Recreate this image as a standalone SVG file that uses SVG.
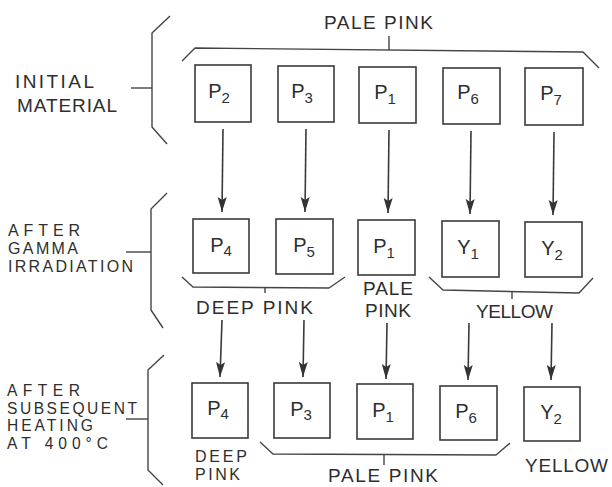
<svg xmlns="http://www.w3.org/2000/svg" width="612" height="487" viewBox="0 0 612 487">
<defs>
<marker id="ah" markerUnits="userSpaceOnUse" markerWidth="16" markerHeight="10" refX="15" refY="5" orient="auto" viewBox="0 0 16 10">
<path d="M0,0.5 L15,5 L0,9.5 L3,5 Z" fill="#333"/>
</marker>
</defs>
<style>
text{font-family:"Liberation Sans",Arial,sans-serif;font-size:19px;fill:#2e2e2e}
.stk{font-size:16px}
.stk4{font-size:15.6px}
.lbl{text-anchor:middle;font-size:20px}
.sub{font-size:15px}
.box{fill:none;stroke:#3a3a3a;stroke-width:1.6}
.br{fill:none;stroke:#444;stroke-width:1.4;stroke-linejoin:round}
.ar{stroke:#3a3a3a;stroke-width:1.6;fill:none}
</style>
<rect width="612" height="487" fill="#fff"/>

<g id="stage-labels">
<text x="15" y="88" textLength="79" lengthAdjust="spacing">INITIAL</text>
<text x="17" y="112" textLength="100" lengthAdjust="spacing">MATERIAL</text>
<text class="stk" x="8" y="236" textLength="72" lengthAdjust="spacing">AFTER</text>
<text class="stk" x="8" y="254" textLength="70" lengthAdjust="spacing">GAMMA</text>
<text class="stk" x="8" y="272" textLength="125" lengthAdjust="spacing">IRRADIATION</text>
<text class="stk4" x="7" y="396" textLength="73" lengthAdjust="spacing">AFTER</text>
<text class="stk4" x="7" y="413.5" textLength="130" lengthAdjust="spacing">SUBSEQUENT</text>
<text class="stk4" x="7" y="431" textLength="86" lengthAdjust="spacing">HEATING</text>
<text class="stk4" x="7" y="448.5" textLength="101" lengthAdjust="spacing">AT 400°C</text>
</g>

<g id="brackets">
<polyline class="br" points="170,16 152,33 152,127 167,144"/>
<line class="br" x1="131" y1="88" x2="152" y2="88"/>
<polyline class="br" points="167,193 151,209 151,310 163,328"/>
<line class="br" x1="126" y1="252" x2="151" y2="252"/>
<polyline class="br" points="164,355 148,370 148,470 163,485"/>
<line class="br" x1="126" y1="419" x2="148" y2="419"/>

<polyline class="br" points="182,61 195,48 583,52 599,68"/>
<line class="br" x1="389" y1="36" x2="389" y2="50"/>

<polyline class="br" points="182,277 193,287 329,288 345,277"/>
<line class="br" x1="265" y1="287" x2="265" y2="293"/>

<polyline class="br" points="429,277 443,290 579,293 593,278"/>
<line class="br" x1="512" y1="291" x2="512" y2="299"/>

<polyline class="br" points="260,442 273,454 496,455 510,443"/>
<line class="br" x1="384" y1="455" x2="384" y2="465"/>
</g>

<g id="color-labels">
<text x="324" y="29" textLength="109" lengthAdjust="spacing">PALE PINK</text>
<text x="196" y="314" textLength="117" lengthAdjust="spacing">DEEP PINK</text>
<text x="363" y="295" textLength="50" lengthAdjust="spacing">PALE</text>
<text x="365" y="317" textLength="46" lengthAdjust="spacing">PINK</text>
<text x="476" y="318" textLength="77" lengthAdjust="spacing">YELLOW</text>
<text class="stk" x="195" y="462" textLength="52" lengthAdjust="spacing">DEEP</text>
<text class="stk" x="195" y="480" textLength="45" lengthAdjust="spacing">PINK</text>
<text x="328" y="482" textLength="110" lengthAdjust="spacing">PALE PINK</text>
<text x="525" y="472" textLength="83" lengthAdjust="spacing">YELLOW</text>
</g>

<g id="connectors">
<line class="ar" x1="223" y1="129" x2="222" y2="212" marker-end="url(#ah)"/>
<line class="ar" x1="306" y1="129" x2="305" y2="212" marker-end="url(#ah)"/>
<line class="ar" x1="389" y1="130" x2="388" y2="213" marker-end="url(#ah)"/>
<line class="ar" x1="471" y1="131" x2="470" y2="214" marker-end="url(#ah)"/>
<line class="ar" x1="554" y1="132" x2="553" y2="215" marker-end="url(#ah)"/>
<line class="ar" x1="222" y1="320" x2="220" y2="377" marker-end="url(#ah)"/>
<line class="ar" x1="304" y1="320" x2="303" y2="377" marker-end="url(#ah)"/>
<line class="ar" x1="387" y1="323" x2="386" y2="379" marker-end="url(#ah)"/>
<line class="ar" x1="469" y1="323" x2="468" y2="380" marker-end="url(#ah)"/>
<line class="ar" x1="552" y1="323" x2="551" y2="380" marker-end="url(#ah)"/>
</g>

<g id="top-P2"><rect class="box" x="195" y="65" width="56" height="57"/><text class="lbl" x="219" y="98">P<tspan class="sub" dy="5">2</tspan></text></g>
<g id="top-P3"><rect class="box" x="278" y="66" width="56" height="56"/><text class="lbl" x="302" y="98">P<tspan class="sub" dy="5">3</tspan></text></g>
<g id="top-P1"><rect class="box" x="359" y="67" width="57" height="56"/><text class="lbl" x="385" y="99">P<tspan class="sub" dy="5">1</tspan></text></g>
<g id="top-P6"><rect class="box" x="443" y="68" width="57" height="56"/><text class="lbl" x="468" y="99">P<tspan class="sub" dy="5">6</tspan></text></g>
<g id="top-P7"><rect class="box" x="525" y="68" width="58" height="57"/><text class="lbl" x="551" y="100">P<tspan class="sub" dy="5">7</tspan></text></g>

<g id="mid-P4"><rect class="box" x="193" y="219" width="56" height="54"/><text class="lbl" x="221" y="252">P<tspan class="sub" dy="4">4</tspan></text></g>
<g id="mid-P5"><rect class="box" x="276" y="219" width="57" height="55"/><text class="lbl" x="304" y="252">P<tspan class="sub" dy="5">5</tspan></text></g>
<g id="mid-P1"><rect class="box" x="358" y="220" width="57" height="55"/><text class="lbl" x="384" y="253">P<tspan class="sub" dy="5">1</tspan></text></g>
<g id="mid-Y1"><rect class="box" x="442" y="221" width="57" height="56"/><text class="lbl" x="468" y="254">Y<tspan class="sub" dy="5">1</tspan></text></g>
<g id="mid-Y2"><rect class="box" x="525" y="222" width="57" height="55"/><text class="lbl" x="552" y="255">Y<tspan class="sub" dy="5">2</tspan></text></g>

<g id="bot-P4"><rect class="box" x="192" y="383" width="56" height="55"/><text class="lbl" x="218" y="415">P<tspan class="sub" dy="4">4</tspan></text></g>
<g id="bot-P3"><rect class="box" x="274" y="383" width="56" height="55"/><text class="lbl" x="301" y="416">P<tspan class="sub" dy="4">3</tspan></text></g>
<g id="bot-P1"><rect class="box" x="357" y="384" width="56" height="55"/><text class="lbl" x="383" y="417">P<tspan class="sub" dy="5">1</tspan></text></g>
<g id="bot-P6"><rect class="box" x="440" y="386" width="57" height="54"/><text class="lbl" x="466" y="418">P<tspan class="sub" dy="5">6</tspan></text></g>
<g id="bot-Y2"><rect class="box" x="524" y="387" width="56" height="54"/><text class="lbl" x="551" y="419">Y<tspan class="sub" dy="5">2</tspan></text></g>
</svg>
